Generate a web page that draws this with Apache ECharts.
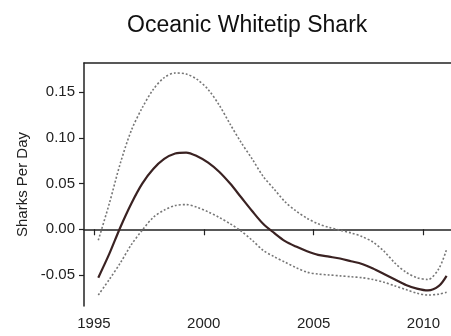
<!DOCTYPE html>
<html>
<head>
<meta charset="utf-8">
<script src="https://cdn.jsdelivr.net/npm/echarts@6/dist/echarts.min.js"></script>
<style>html,body{margin:0;padding:0;background:#fff;}#c{width:451px;height:336px;}</style>
</head>
<body>
<div id="c"></div>
<script>
const title = "Oceanic Whitetip Shark";
const yName = "Sharks Per Day";
const xTicks = [1995, 2000, 2005, 2010];
const yTicks = [-0.05, 0, 0.05, 0.10, 0.15];

const years = [1995.2, 1995.7, 1996.2, 1996.7, 1997.2, 1997.7, 1998.2, 1998.7, 1999.2, 1999.7,
               2000.2, 2000.7, 2001.2, 2001.7, 2002.2, 2002.7, 2003.2, 2003.7, 2004.2, 2004.7,
               2005.2, 2005.7, 2006.2, 2006.7, 2007.2, 2007.7, 2008.2, 2008.7, 2009.2, 2009.7,
               2010.2, 2010.7, 2011.05];
const estimate = [-0.053, -0.027, 0.002, 0.028, 0.050, 0.066, 0.077, 0.083, 0.084, 0.080,
                  0.073, 0.063, 0.050, 0.035, 0.020, 0.006, -0.004, -0.013, -0.019, -0.024,
                  -0.028, -0.030, -0.032, -0.035, -0.038, -0.043, -0.049, -0.055, -0.061, -0.065,
                  -0.067, -0.062, -0.051];
const upper = [-0.012, 0.028, 0.072, 0.108, 0.133, 0.153, 0.166, 0.171, 0.170, 0.164,
               0.153, 0.136, 0.115, 0.095, 0.077, 0.058, 0.044, 0.030, 0.020, 0.012,
               0.006, 0.002, -0.001, -0.004, -0.008, -0.014, -0.024, -0.037, -0.047, -0.053,
               -0.055, -0.043, -0.022];
const lower = [-0.072, -0.055, -0.037, -0.017, -0.001, 0.013, 0.021, 0.026, 0.027, 0.024,
               0.019, 0.013, 0.006, -0.002, -0.012, -0.023, -0.030, -0.036, -0.042, -0.047,
               -0.049, -0.050, -0.051, -0.052, -0.053, -0.055, -0.058, -0.062, -0.066, -0.070,
               -0.072, -0.071, -0.069];

const pairs = (xs, ys) => xs.map((x, i) => [x, ys[i]]);

const chart = echarts.init(document.getElementById('c'), null, {renderer: 'canvas'});
const axisCol = '#222';
const font = 'Liberation Sans, Arial, sans-serif';
chart.setOption({
  animation: false,
  backgroundColor: '#fff',
  title: {
    text: title, left: 122, top: 9,
    textStyle: {fontFamily: font, fontSize: 23, fontWeight: 'normal', color: '#111'}
  },
  grid: {left: 84, right: 0, top: 63, bottom: 30, containLabel: false},
  xAxis: [{
    type: 'value', min: 1994.55, max: 2011.25,
    axisLine: {show: true, lineStyle: {color: axisCol, width: 1.5}},
    axisTick: {show: true, inside: false, length: 6, customValues: xTicks, lineStyle: {color: axisCol, width: 1.2}},
    axisLabel: {customValues: xTicks, margin: 10, color: '#222', fontFamily: font, fontSize: 15, formatter: v => String(v)},
    splitLine: {show: false}
  }, {
    type: 'value', position: 'top', min: 1994.55, max: 2011.25,
    axisLine: {show: true, onZero: false, lineStyle: {color: axisCol, width: 1.5}},
    axisTick: {show: false}, axisLabel: {show: false}, splitLine: {show: false}
  }],
  yAxis: {
    type: 'value', min: -0.084, max: 0.182,
    name: yName, nameLocation: 'middle', nameGap: 49, nameRotate: 90,
    nameTextStyle: {fontFamily: font, fontSize: 15, color: '#222'},
    axisLine: {show: true, lineStyle: {color: axisCol, width: 1.5}},
    axisTick: {show: true, inside: false, length: 5, customValues: yTicks, lineStyle: {color: axisCol, width: 1.2}},
    axisLabel: {customValues: yTicks, margin: 9, color: '#222', fontFamily: font, fontSize: 15, formatter: v => v.toFixed(2)},
    splitLine: {show: false}
  },
  series: [
    {type: 'line', data: pairs(years, upper), smooth: 0.3, showSymbol: false,
     lineStyle: {color: '#777', width: 1.6, type: [2, 2]}},
    {type: 'line', data: pairs(years, lower), smooth: 0.3, showSymbol: false,
     lineStyle: {color: '#777', width: 1.6, type: [2, 2]}},
    {type: 'line', data: pairs(years, estimate), smooth: 0.3, showSymbol: false,
     lineStyle: {color: '#3a2222', width: 2.2}}
  ]
});
</script>
</body>
</html>
